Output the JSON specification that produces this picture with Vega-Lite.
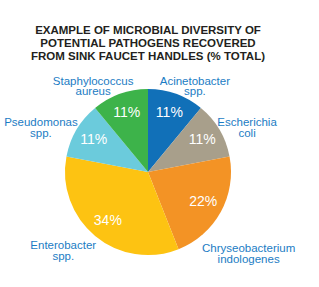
{
  "$schema": "https://vega.github.io/schema/vega-lite/v6.json",
  "width": 166,
  "height": 166,
  "autosize": "none",
  "padding": {"left": 65, "top": 89, "right": 88, "bottom": 32},
  "background": "white",
  "config": {"view": {"stroke": null}},
  "title": {
    "text": ["EXAMPLE OF MICROBIAL DIVERSITY OF", "POTENTIAL PATHOGENS RECOVERED", "FROM SINK FAUCET HANDLES (% TOTAL)"],
    "font": "Liberation Sans",
    "fontSize": 11.5,
    "fontWeight": "bold",
    "color": "#231f20",
    "lineHeight": 13,
    "anchor": "middle",
    "offset": 13
  },
  "data": {
    "values": [
      {"name": "Acinetobacter\nspp.", "pct": 11, "pctLabel": "11%", "ord": 1},
      {"name": "Escherichia\ncoli", "pct": 11, "pctLabel": "11%", "ord": 2},
      {"name": "Chryseobacterium\nindologenes", "pct": 22, "pctLabel": "22%", "ord": 3},
      {"name": "Enterobacter\nspp.", "pct": 34, "pctLabel": "34%", "ord": 4},
      {"name": "Pseudomonas\nspp.", "pct": 11, "pctLabel": "11%", "ord": 5},
      {"name": "Staphylococcus\naureus", "pct": 11, "pctLabel": "11%", "ord": 6}
    ]
  },
  "encoding": {
    "theta": {"field": "pct", "type": "quantitative", "stack": true},
    "order": {"field": "ord", "type": "quantitative"}
  },
  "layer": [
    {
      "mark": {"type": "arc", "outerRadius": 83},
      "encoding": {
        "color": {
          "field": "name",
          "type": "nominal",
          "legend": null,
          "scale": {
            "domain": ["Acinetobacter\nspp.", "Escherichia\ncoli", "Chryseobacterium\nindologenes", "Enterobacter\nspp.", "Pseudomonas\nspp.", "Staphylococcus\naureus"],
            "range": ["#1170b8", "#a89f8b", "#f39325", "#fdc312", "#6bcbdc", "#3db34a"]
          }
        }
      }
    },
    {
      "mark": {"type": "text", "radius": 63, "font": "Liberation Sans", "fontSize": 14, "fill": "white", "align": "center", "baseline": "middle"},
      "encoding": {"text": {"field": "pctLabel", "type": "nominal"}}
    },
    {
      "mark": {
        "type": "text", "radius": 100, "font": "Liberation Sans", "fontSize": 11.5, "fill": "#1b7cc4",
        "lineBreak": "\n", "lineHeight": 10.5, "align": "center", "baseline": "middle",
        "dx": {"expr": "datum.ord <= 3 ? 13 : -21"},
        "dy": {"expr": "datum.ord == 3 ? 29 : datum.ord == 4 ? -3 : (datum.ord == 1 || datum.ord == 6) ? 4 : 2"}
      },
      "encoding": {"text": {"field": "name", "type": "nominal"}}
    }
  ]
}
